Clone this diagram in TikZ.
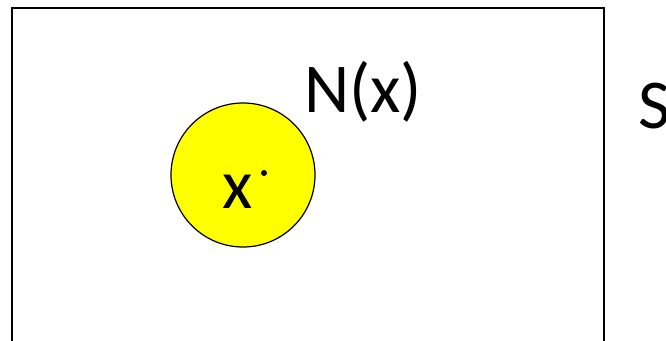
\documentclass[tikz,border=0pt]{standalone}
\usepackage{fontspec}
\setmainfont{Carlito}
\usetikzlibrary{positioning}
\definecolor{nbhdyellow}{HTML}{FFFF00}

\begin{document}
\begin{tikzpicture}[x=1pt,y=-1pt]
\useasboundingbox (0,0) rectangle (666,340);
\clip (0,0) rectangle (666,340);

% the set S
\node[rectangle, draw=black, line width=1.5pt, inner sep=0pt,
      minimum width=592pt, minimum height=380pt, anchor=north west]
  (setS) at (11,7) {};
\node[font=\fontsize{70}{84}\selectfont, anchor=base west, inner sep=0pt]
  (labelS) at (638,128) {S};

% the neighbourhood N(x)
\node[circle, draw=black, line width=1.2pt, fill=nbhdyellow,
      minimum size=144pt, inner sep=0pt]
  (nbhd) at (243,175) {};
\node[font=\fontsize{70}{84}\selectfont, anchor=base west, inner sep=0pt]
  (labelN) at (304,112) {N(x)};

% the point x
\node[font=\fontsize{70}{84}\selectfont, anchor=base, inner sep=0pt]
  (labelx) at (238,208) {x};
\node[circle, fill=black, minimum size=6pt, inner sep=0pt]
  (ptx) at (264,173) {};
\end{tikzpicture}
\end{document}
